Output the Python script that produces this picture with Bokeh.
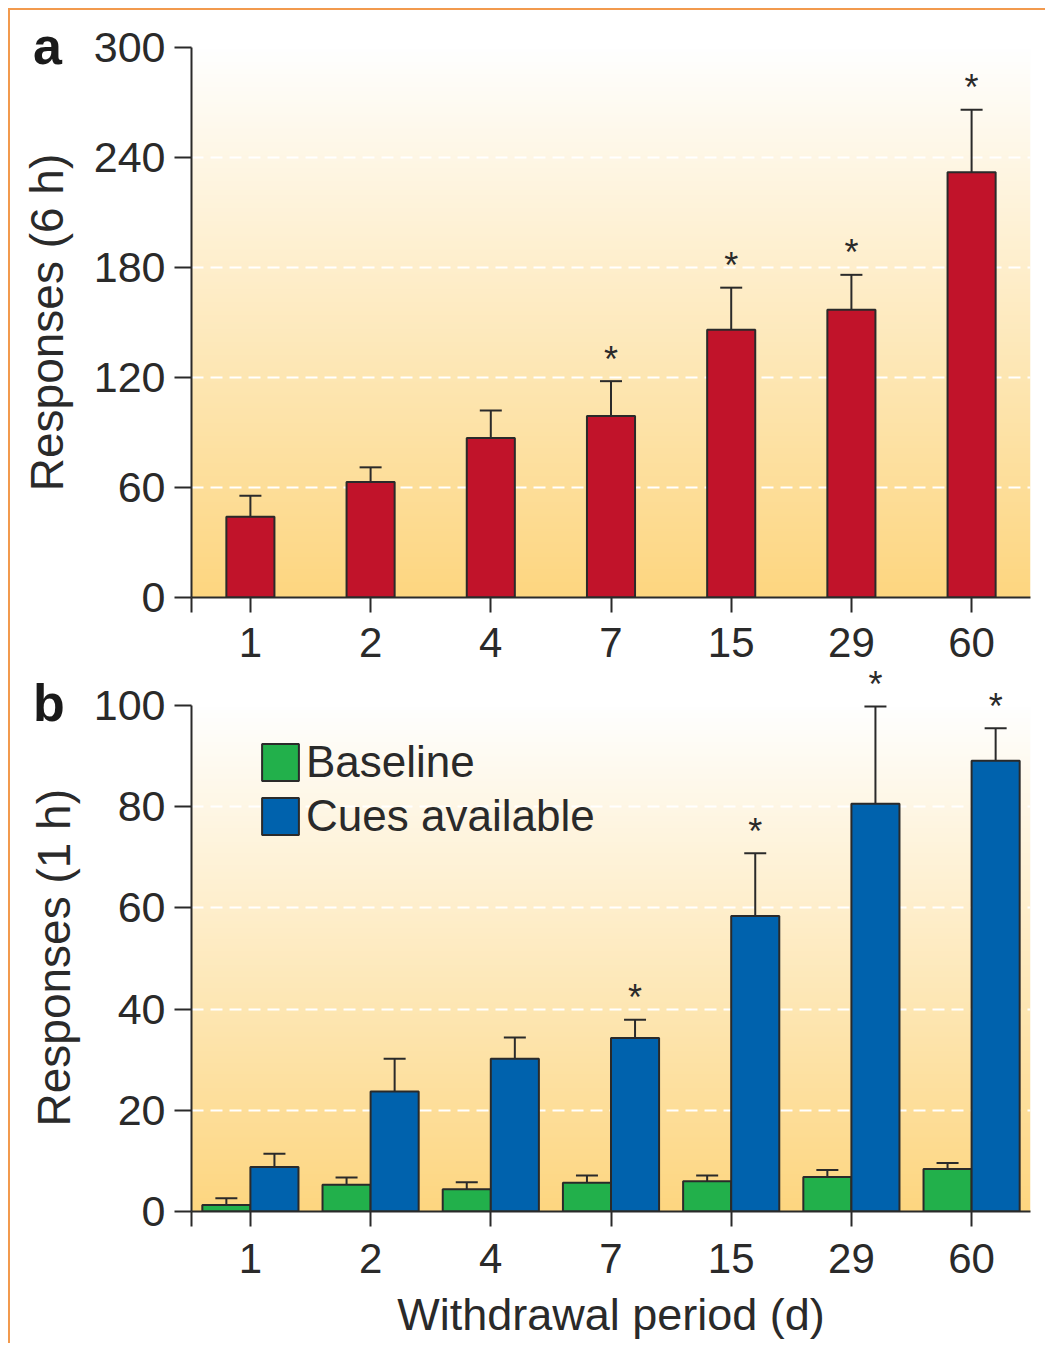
import numpy as np
from bokeh.plotting import figure
from bokeh.models import (ColumnDataSource, Whisker, TeeHead, FixedTicker, Div,
                          Legend, LegendItem, Range1d, Title)
from bokeh.layouts import column
from bokeh.embed import file_html
from bokeh.resources import INLINE
from bokeh.core.properties import value

# ---------------- data ----------------
days = ["1", "2", "4", "7", "15", "29", "60"]

a_mean = [44, 63, 87, 99, 146, 157, 232]
a_sem = [11.5, 8, 15, 19, 23, 19, 34]
a_sig = [False, False, False, True, True, True, True]
a_yticks = [0, 60, 120, 180, 240, 300]

b_base_mean = [1.3, 5.3, 4.4, 5.7, 6.0, 6.8, 8.4]
b_base_sem = [1.3, 1.4, 1.4, 1.4, 1.1, 1.4, 1.2]
b_cue_mean = [8.8, 23.7, 30.2, 34.3, 58.4, 80.6, 89.1]
b_cue_sem = [2.6, 6.5, 4.2, 3.6, 12.4, 19.2, 6.4]
b_cue_sig = [False, False, False, True, True, True, True]
b_yticks = [0, 20, 40, 60, 80, 100]

# ---------------- style ----------------
FONT = "Liberation Sans"
INK = "#2a2a2a"
RED = "#C1132A"
GREEN = "#22B04B"
BLUE = "#0062AD"
ORANGE = "#F29A4E"
X0, X1 = -0.49, 6.49
BAR_W = 0.4
idx = list(range(len(days)))


def gradient_image(n=300):
    t = np.linspace(0.0, 1.0, n)[:, None]  # 0 = bottom, 1 = top
    bottom = np.array([253, 214, 128], dtype=float)
    top = np.array([255, 255, 255], dtype=float)
    rgb = bottom + (top - bottom) * t
    img = np.empty((n, 1), dtype=np.uint32)
    view = img.view(dtype=np.uint8).reshape((n, 1, 4))
    view[:, 0, 0] = rgb[:, 0].astype(np.uint8)
    view[:, 0, 1] = rgb[:, 1].astype(np.uint8)
    view[:, 0, 2] = rgb[:, 2].astype(np.uint8)
    view[:, 0, 3] = 255
    return img


def make_fig(width, height, yspan, ymax, yticks, xlabel, mb_left, mb_top,
             mb_bottom, x_standoff):
    p = figure(width=width, height=height, x_range=Range1d(X0, X1),
               y_range=Range1d(0, yspan), output_backend="svg",
               toolbar_location=None, min_border_left=mb_left,
               min_border_right=15, min_border_top=mb_top,
               min_border_bottom=mb_bottom)
    p.outline_line_color = None
    p.image_rgba(image=[gradient_image()], x=X0, y=0, dw=X1 - X0, dh=ymax,
                 level="image")
    p.xgrid.grid_line_color = None
    p.ygrid.grid_line_color = "white"
    p.ygrid.grid_line_width = 2
    p.ygrid.grid_line_dash = "12 7"
    p.ygrid.ticker = FixedTicker(ticks=yticks)

    p.yaxis.ticker = FixedTicker(ticks=yticks)
    p.yaxis.bounds = (0, ymax)
    p.xaxis.ticker = FixedTicker(ticks=[X0] + idx)
    overrides = {i: d for i, d in zip(idx, days)}
    overrides[X0] = ""
    p.xaxis.major_label_overrides = overrides
    for ax in (p.xaxis[0], p.yaxis[0]):
        ax.axis_line_width = 2
        ax.axis_line_color = INK
        ax.major_tick_line_width = 2
        ax.major_tick_line_color = INK
        ax.major_tick_in = 0
        ax.minor_tick_line_color = None
        ax.major_label_text_font = FONT
        ax.major_label_text_color = INK
        ax.axis_label_text_font = FONT
        ax.axis_label_text_font_style = "normal"
        ax.axis_label_text_color = INK
    p.xaxis.major_label_text_font_size = "42px"
    p.yaxis.major_label_text_font_size = "43px"
    p.xaxis.axis_label_text_font_size = "45px"
    p.yaxis.axis_label_text_font_size = "46px"
    p.yaxis.major_tick_out = 17
    p.xaxis.major_tick_out = 15
    p.yaxis.major_label_standoff = 9
    p.xaxis.major_label_standoff = x_standoff
    if xlabel:
        p.xaxis.axis_label = xlabel
        p.xaxis.axis_label_standoff = 13
    return p


def add_bars(p, xs, means, sems, sigs, color):
    tops = [m + s for m, s in zip(means, sems)]
    src = ColumnDataSource(dict(x=xs, mean=means, top=tops,
                                star=["*" if s else "" for s in sigs]))
    r = p.vbar(x="x", top="mean", bottom=0, width=BAR_W, source=src,
               fill_color=color, line_color=INK, line_width=2)
    w = Whisker(base="x", lower="mean", upper="top", source=src,
                line_color=INK, line_width=2, lower_head=None,
                upper_head=TeeHead(size=22, line_color=INK, line_width=2))
    p.add_layout(w)
    p.text(x="x", y="top", text="star", source=src, text_font=value(FONT),
           text_font_size="36px", text_color=INK, text_align="center",
           text_baseline="alphabetic", y_offset=-22)
    return r


# ---------------- panel a ----------------
pa = make_fig(1035, 659, 300, 300, a_yticks, None, 178, 37, 72, 15)
pa.background_fill_color = "white"
pa.border_fill_color = "white"
pa.yaxis.axis_label = "Responses (6 h)"
pa.yaxis.axis_label_standoff = 18
add_bars(pa, idx, a_mean, a_sem, a_sig, RED)

# ---------------- panel b ----------------
# The frame reaches a little above 100 (into a transparent overlap with panel a)
# so that the star over "29" has room; the axis itself is bounded at 100.
pb = make_fig(1035, 694, 100 * 562 / 506, 100, b_yticks,
              "Withdrawal period (d)", 181, 0, 132, 17)
pb.margin = (-20, 0, 0, 0)
pb.background_fill_alpha = 0
pb.border_fill_alpha = 0
pb.add_layout(Title(text="Responses (1 h)", align="left", vertical_align="bottom",
                    offset=85, standoff=22, text_font=FONT, text_font_size="46px",
                    text_font_style="normal", text_color=INK), "left")
xg = [i - BAR_W / 2 for i in idx]
xb = [i + BAR_W / 2 for i in idx]
rg = add_bars(pb, xg, b_base_mean, b_base_sem, [False] * len(idx), GREEN)
rb = add_bars(pb, xb, b_cue_mean, b_cue_sem, b_cue_sig, BLUE)

legend = Legend(items=[LegendItem(label="Baseline", renderers=[rg]),
                       LegendItem(label="Cues available", renderers=[rb])],
                location=(66, 370), glyph_width=46, glyph_height=46,
                label_text_font=FONT, label_text_font_size="44px",
                label_text_color=INK, label_standoff=3, spacing=4,
                padding=0, margin=0, border_line_alpha=0,
                background_fill_alpha=0)
pb.add_layout(legend)


def panel_letter(txt, left, top):
    return Div(text=txt, styles={
        "position": "absolute", "left": f"{left}px", "top": f"{top}px",
        "font-family": FONT, "font-size": "52px", "font-weight": "bold",
        "line-height": "1", "color": "#1a1a1a", "z-index": "10"})


layout = column(pa, pb, panel_letter("a", 18, 5), panel_letter("b", 18, 662),
                margin=(8, 0, 0, 8),
                styles={"border-top": f"2px solid {ORANGE}",
                        "border-left": f"2px solid {ORANGE}",
                        "position": "relative"})

open("out.html", "w").write(file_html(layout, INLINE))
